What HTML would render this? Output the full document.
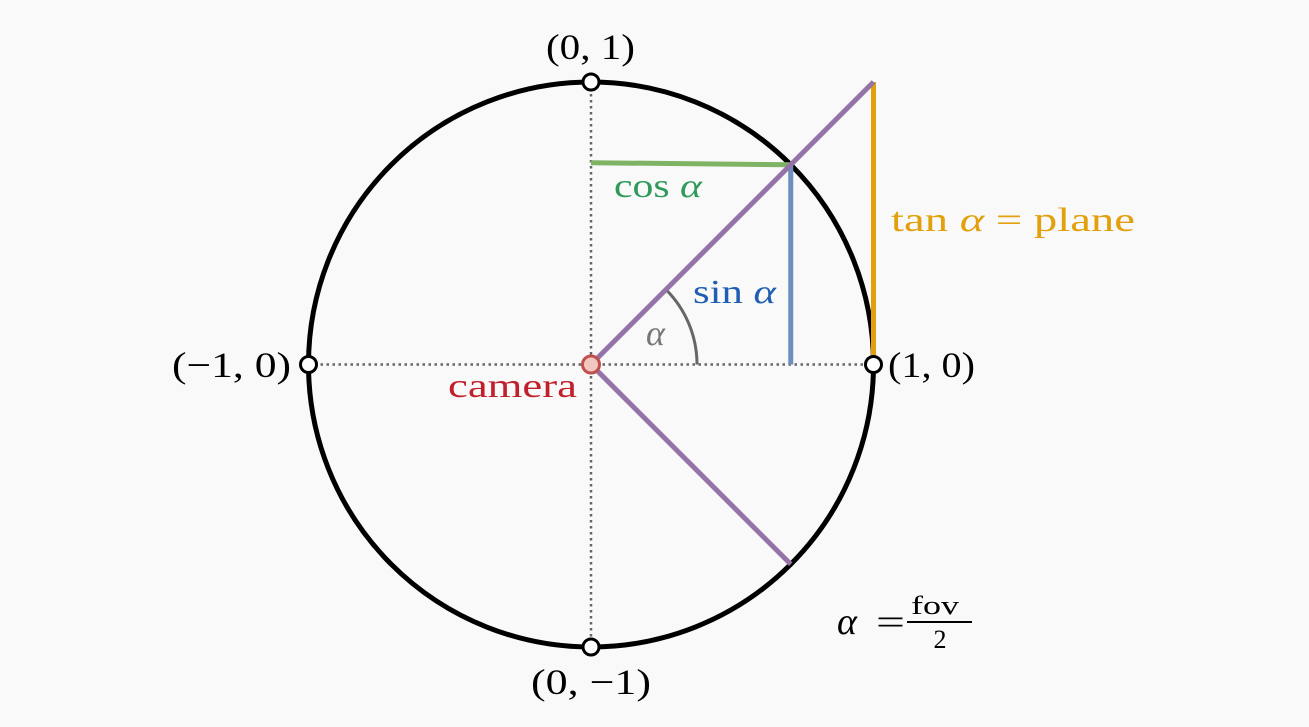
<!DOCTYPE html>
<html><head><meta charset="utf-8"><style>
html,body{margin:0;padding:0;background:#f9f9f9;}
svg{display:block;}
text{font-family:"Liberation Serif","DejaVu Serif",serif;}
</style></head><body>
<svg id="fig" width="1309" height="727" viewBox="0 0 1309 727">
<rect width="1309" height="727" fill="#f9f9f9"/>
</svg>
<script>
const halfFovDeg = [45];
const axisPoints = [[0,1],[-1,0],[1,0],[0,-1]];
const axisLabels = ["(0, 1)","(\u22121, 0)","(1, 0)","(0, \u22121)"];
const NS="http://www.w3.org/2000/svg";
const svg=document.getElementById('fig');
const cx=591, cy=364.5, R=282.5;
const X=v=>cx+v*R, Y=v=>cy-v*R;
function mk(tag,attrs,name,txt){const e=document.createElementNS(NS,tag);for(const k in attrs)e.setAttribute(k,attrs[k]);


if(txt!==undefined)e.textContent=txt;svg.appendChild(e);return e;}
const a=halfFovDeg[0]*Math.PI/180, c=Math.cos(a), s=Math.sin(a), t=Math.tan(a);
mk('line',{x1:X(-1),y1:cy,x2:X(1),y2:cy,stroke:'#666','stroke-width':2.5,'stroke-dasharray':'2.5 3.5'},'x-axis-dotted');
mk('line',{x1:cx,y1:Y(1),x2:cx,y2:Y(-1),stroke:'#666','stroke-width':2.5,'stroke-dasharray':'2.5 3.5'},'y-axis-dotted');
mk('circle',{cx:cx,cy:cy,r:R,fill:'none',stroke:'#000','stroke-width':5},'unit-circle');
const ar=106;
mk('path',{d:`M${cx+ar} ${cy} A${ar} ${ar} 0 0 0 ${cx+ar*c} ${cy-ar*s}`,fill:'none',stroke:'#666','stroke-width':3},'angle-arc');
mk('line',{x1:cx,y1:Y(s)-2,x2:X(c),y2:Y(s),stroke:'#7fb364','stroke-width':5},'cos-line');
mk('line',{x1:X(c),y1:Y(s),x2:X(c),y2:cy,stroke:'#6d8fc0','stroke-width':5},'sin-line');
mk('line',{x1:X(1),y1:Y(t),x2:X(1),y2:cy,stroke:'#e2a00c','stroke-width':5},'tan-line');
mk('line',{x1:cx,y1:cy,x2:X(1),y2:Y(t),stroke:'#9573a8','stroke-width':5},'upper-view-ray');
mk('line',{x1:cx,y1:cy,x2:X(c),y2:Y(-s),stroke:'#9573a8','stroke-width':5},'lower-view-ray');
axisPoints.forEach((p,i)=>{mk('circle',{cx:X(p[0]),cy:Y(p[1]),r:8,fill:'#fff',stroke:'#000','stroke-width':3},'axis-point-'+i);});
mk('circle',{cx:cx,cy:cy,r:8.5,fill:'#f4c6c2',stroke:'#c0504d','stroke-width':3},'camera-point');
const lab=[[546,59,89],[172,377,119],[888,377,87],[531,694,120]];
axisPoints.forEach((p,i)=>{mk('text',{x:lab[i][0],y:lab[i][1],'font-size':36,fill:'#000',textLength:lab[i][2],lengthAdjust:'spacingAndGlyphs'},'axis-label-'+i,axisLabels[i]);});
mk('text',{x:448,y:397,'font-size':34,fill:'#c0202b',textLength:129,lengthAdjust:'spacingAndGlyphs'},'camera-label','camera');
const tc=mk('text',{x:614,y:197,'font-size':34,fill:'#2e9a5c',textLength:88,lengthAdjust:'spacingAndGlyphs'},'cos-label');tc.innerHTML='cos <tspan font-style="italic">α</tspan>';
const ts=mk('text',{x:693,y:303,'font-size':34,fill:'#1e5fb4',textLength:83,lengthAdjust:'spacingAndGlyphs'},'sin-label');ts.innerHTML='sin <tspan font-style="italic">α</tspan>';
const tt=mk('text',{x:891,y:231,'font-size':34,fill:'#e2a00c',textLength:244,lengthAdjust:'spacingAndGlyphs'},'tan-label');tt.innerHTML='tan <tspan font-style="italic">α</tspan> = plane';
mk('text',{x:646,y:345,'font-size':36,'font-style':'italic',fill:'#777'},'alpha-label','α');
mk('text',{x:837,y:634,'font-size':38,'font-style':'italic',fill:'#000'},'alpha-eq-label','α');
mk('text',{x:876,y:634,'font-size':36,fill:'#000',textLength:29,lengthAdjust:'spacingAndGlyphs'},'equals-sign','=');
mk('text',{x:935,y:614,'text-anchor':'middle','font-size':26,fill:'#000',textLength:48,lengthAdjust:'spacingAndGlyphs'},'fov-numerator','fov');
mk('line',{x1:907,y1:622,x2:972,y2:622,stroke:'#000','stroke-width':2},'fraction-bar');
mk('text',{x:940,y:648,'text-anchor':'middle','font-size':26,fill:'#000'},'fov-denominator','2');
</script>
</body></html>
